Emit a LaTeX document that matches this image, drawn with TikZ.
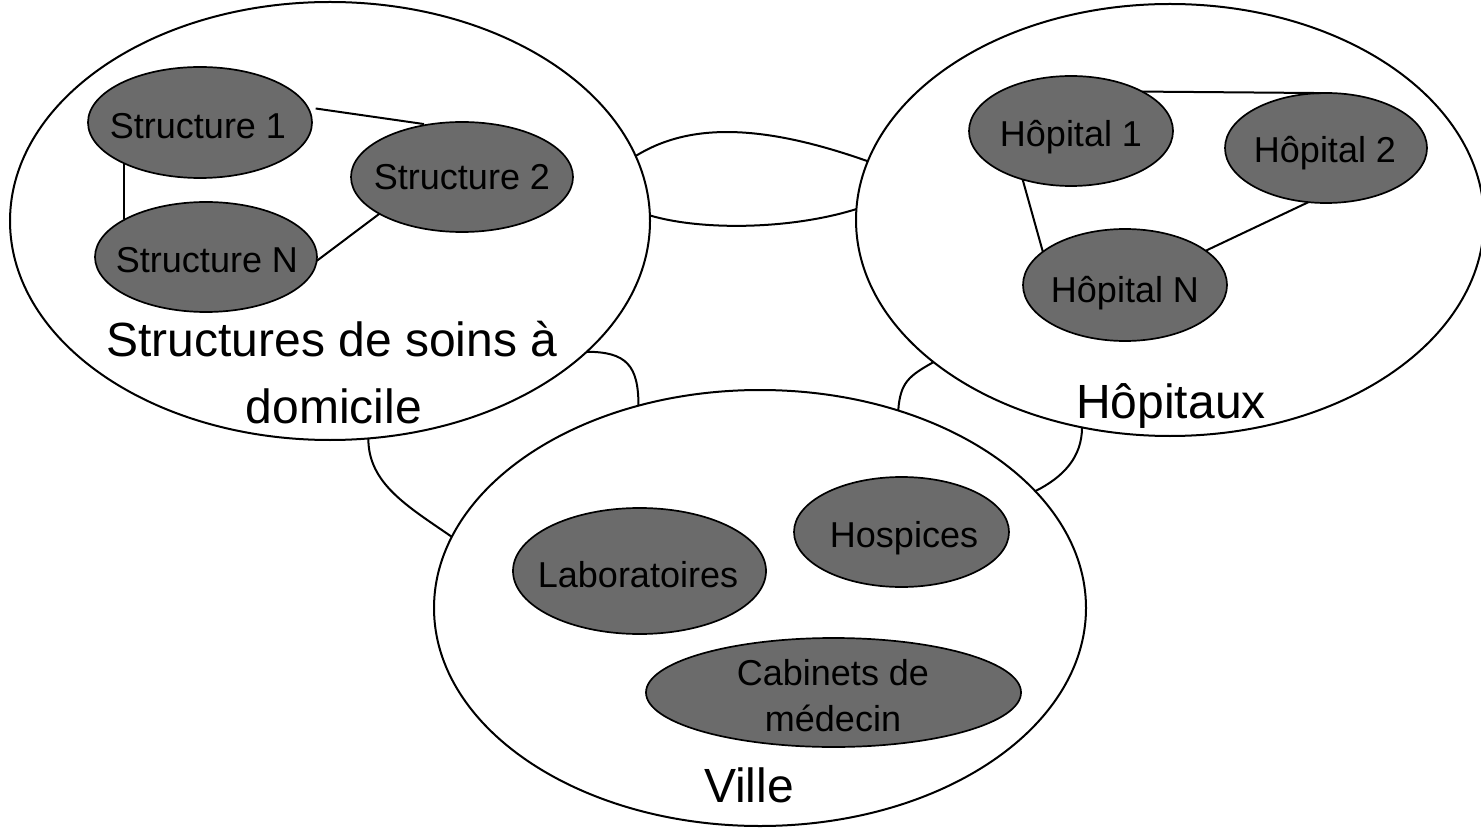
\documentclass[tikz,border=0pt]{standalone}
\usepackage{fontspec}
\setmainfont{Liberation Sans}
\usetikzlibrary{shapes.geometric,calc}
\definecolor{unitgray}{RGB}{107,107,107}
\tikzset{
  areabox/.style={ellipse, draw, line width=1pt, inner sep=0pt, outer sep=0pt},
  memberbox/.style={ellipse, draw, fill=unitgray, line width=0.85pt, inner sep=0pt, outer sep=0pt},
  linkline/.style={line width=1pt},
  smalltext/.style={font=\fontsize{18}{21}\selectfont, inner sep=0pt, anchor=base},
  bigtext/.style={font=\fontsize{24}{28}\selectfont, inner sep=0pt, anchor=base},
}
\begin{document}
\begin{tikzpicture}[x=0.5pt,y=-0.5pt]
\useasboundingbox (0,0) rectangle (1481,828);
\clip (0,0) rectangle (1481,828);

% the three care areas
\node[areabox, minimum width=320pt, minimum height=219pt] (home) at (330,221) {};
\node[areabox, minimum width=314pt, minimum height=216pt] (hosp) at (1170,220) {};
\node[areabox, minimum width=326pt, minimum height=218pt] (city) at (760,608) {};

% home care structures
\node[memberbox, minimum width=112pt, minimum height=55.5pt] (s1) at (200,122.5) {};
\node[memberbox, minimum width=111pt, minimum height=55pt] (s2) at (462,177) {};
\node[memberbox, minimum width=111pt, minimum height=55pt] (sn) at (206,257) {};

% hospitals
\node[memberbox, minimum width=102pt, minimum height=55pt] (h1) at (1071,131) {};
\node[memberbox, minimum width=101pt, minimum height=55pt] (h2) at (1326,148) {};
\node[memberbox, minimum width=102pt, minimum height=56pt] (hn) at (1125,285) {};

% city actors
\node[memberbox, minimum width=126.5pt, minimum height=63pt] (lab) at (639.5,571) {};
\node[memberbox, minimum width=107.5pt, minimum height=55pt] (hos) at (901.5,532) {};
\node[memberbox, minimum width=187.5pt, minimum height=54.5pt] (cab) at (833.5,692.5) {};

% links inside the areas
\draw[linkline] (s1.208) -- (s1.208 |- sn.155);
\draw[linkline, shorten <=4pt, shorten >=2pt] (s1.8) -- (s2.123);
\draw[linkline] (s2.204) -- (sn.-2);
\draw[linkline] (h1.29) -- (h2.95);
\draw[linkline] (h1.225) -- (hn.158);
\draw[linkline] (h2.252) -- (hn.23);

% links between the areas
\draw[linkline] (home.12) .. controls +(50,-31) and +(-113,-40) .. (hosp.169);
\draw[linkline] (home.1) .. controls +(50,15) and +(-67,21) .. (hosp.178);
\draw[linkline] (home.-27) .. controls +(40,0) and +(0,-40) .. (city.121);
\draw[linkline] (home.-80) .. controls +(0,45) and +(-45,-31) .. (city.167);
\draw[linkline] (hosp.211) .. controls +(-25,14) and +(2,-28) .. (city.55);
\draw[linkline] (hosp.247) .. controls +(0,30) and +(28,-14) .. (city.23);

% labels
\node[smalltext] (t-s1) at (198,139) {Structure 1};
\node[smalltext] (t-s2) at (462,190) {Structure 2};
\node[smalltext] (t-sn) at (207,273) {Structure N};
\node[smalltext] (t-h1) at (1071,147) {Hôpital 1};
\node[smalltext] (t-h2) at (1325,163) {Hôpital 2};
\node[smalltext] (t-hn) at (1125,303) {Hôpital N};
\node[smalltext] (t-lab) at (638,587) {Laboratoires};
\node[smalltext] (t-hos) at (904,547) {Hospices};
\node[smalltext] (t-cab1) at (833,685) {Cabinets de};
\node[smalltext] (t-cab2) at (833,731) {médecin};
\node[bigtext] (t-home1) at (332,357) {Structures de soins à};
\node[bigtext] (t-home2) at (334,423) {domicile};
\node[bigtext] (t-hosp) at (1171,418) {Hôpitaux};
\node[bigtext] (t-city) at (749,802) {Ville};
\end{tikzpicture}
\end{document}
